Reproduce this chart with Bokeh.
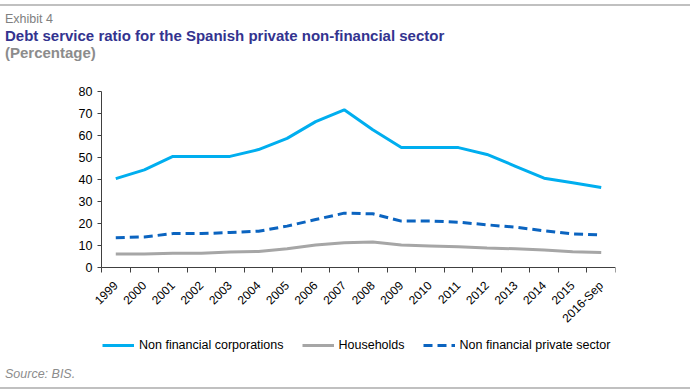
import math
from bokeh.plotting import figure
from bokeh.models import Range1d, FixedTicker, Legend, LegendItem, Div, LinearAxis
from bokeh.layouts import column
from bokeh.embed import file_html
from bokeh.resources import INLINE

years = ["1999", "2000", "2001", "2002", "2003", "2004", "2005", "2006", "2007",
         "2008", "2009", "2010", "2011", "2012", "2013", "2014", "2015", "2016-Sep"]
corporations = [40.4, 44.4, 50.5, 50.5, 50.5, 53.6, 58.7, 66.3, 71.7,
                62.6, 54.5, 54.5, 54.5, 51.4, 46.0, 40.6, 38.5, 36.4]
households = [6.1, 6.1, 6.5, 6.5, 7.0, 7.3, 8.5, 10.2, 11.2,
              11.6, 10.2, 9.8, 9.4, 8.9, 8.5, 8.0, 7.2, 6.8]
private_sector = [13.5, 13.9, 15.4, 15.4, 15.9, 16.5, 18.8, 21.8, 24.7,
                  24.4, 21.1, 21.1, 20.6, 19.4, 18.3, 16.7, 15.3, 14.8]
y_ticks = [0, 10, 20, 30, 40, 50, 60, 70, 80]

FONT = "Liberation Sans"
idx = list(range(len(years)))

header = Div(width=690, height=81, margin=(0, 0, 0, 0), text=(
    "<div style=\"margin-top:4px;border-top:2px solid #C0C0C0;padding-top:6px;"
    "font-family:'Liberation Sans';width:690px\">"
    "<div style=\"font-size:12.5px;line-height:14px;color:#808080;padding-left:5px\">Exhibit 4</div>"
    "<div style=\"font-size:15px;line-height:15px;font-weight:bold;color:#33338F;margin-top:2px;padding-left:5px\">"
    "Debt service ratio for the Spanish private non-financial sector</div>"
    "<div style=\"font-size:15px;line-height:15px;font-weight:bold;color:#8C8C8C;margin-top:2px;padding-left:5px\">(Percentage)</div>"
    "</div>"))

# plot area: 514 px for the 18 categories, 176 px for 0..80; the frame is widened to the
# left (value labels), upwards (top label) and downwards (legend); the axes are pinned.
PX_X = 514 / len(years)
PX_Y = 176 / 80
EXTRA_LEFT = 61
EXTRA_TOP = 9
EXTRA_BOTTOM = 95
p = figure(frame_width=514 + EXTRA_LEFT, frame_height=176 + EXTRA_TOP + EXTRA_BOTTOM,
           output_backend="svg", toolbar_location=None,
           x_range=Range1d(-0.5 - EXTRA_LEFT / PX_X, len(years) - 0.5),
           y_range=Range1d(-EXTRA_BOTTOM / PX_Y, 80 + EXTRA_TOP / PX_Y),
           x_axis_location=None, y_axis_location=None,
           min_border_left=40, min_border_right=75, min_border_top=10 - EXTRA_TOP,
           min_border_bottom=0)
p.outline_line_color = None
p.grid.visible = False
p.border_fill_alpha = 0

r1 = p.line(idx, corporations, line_color="#00AEEF", line_width=3)
r2 = p.line(idx, households, line_color="#A6A6A6", line_width=3)
r3 = p.line(idx, private_sector, line_color="#0B64C0", line_width=3, line_dash="9 5")

xa = LinearAxis(fixed_location=0, bounds=(-0.5, len(years) - 0.5))
xa.ticker = FixedTicker(ticks=idx, minor_ticks=[i - 0.5 for i in range(len(years) + 1)])
xa.major_label_overrides = {i: y for i, y in enumerate(years)}
xa.major_label_orientation = math.pi / 4
xa.major_tick_line_color = None
xa.minor_tick_line_color = "#404040"
xa.minor_tick_out = 5
xa.minor_tick_in = 0
xa.axis_line_color = "#404040"
xa.major_label_text_font = FONT
xa.major_label_text_font_size = "12px"
xa.major_label_text_color = "#000000"
xa.major_label_standoff = 10
p.add_layout(xa, "below")

ya = LinearAxis(fixed_location=-0.5, bounds=(0, 80))
ya.ticker = FixedTicker(ticks=y_ticks)
ya.minor_tick_line_color = None
ya.major_tick_out = 4
ya.major_tick_in = 0
ya.major_tick_line_color = "#404040"
ya.axis_line_color = "#404040"
ya.major_label_text_font = FONT
ya.major_label_text_font_size = "12.5px"
ya.major_label_text_color = "#000000"
ya.major_label_standoff = 5
p.add_layout(ya, "left")

legend = Legend(items=[LegendItem(label="Non financial corporations", renderers=[r1]),
                       LegendItem(label="Households", renderers=[r2]),
                       LegendItem(label="Non financial private sector", renderers=[r3])],
                orientation="horizontal", location=(EXTRA_LEFT + 1, 7), padding=0, margin=0,
                spacing=18, glyph_width=32, label_standoff=5, label_height=20, glyph_height=20,
                label_text_font=FONT, label_text_font_size="12.5px", label_text_color="#000000",
                border_line_color=None, background_fill_alpha=0)
p.add_layout(legend, "center")

footer = Div(width=690, height=30, margin=(0, 0, 0, 0), text=(
    "<div style=\"margin-top:5px;padding-bottom:6px;border-bottom:2px solid #C0C0C0;"
    "font-family:'Liberation Sans';font-size:12.5px;line-height:14px;font-style:italic;"
    "color:#8C8C8C;width:690px\"><span style=\"padding-left:5px\">Source: BIS.</span></div>"))

layout = column(header, p, footer, spacing=0)
open("out.html", "w").write(file_html(layout, INLINE))
